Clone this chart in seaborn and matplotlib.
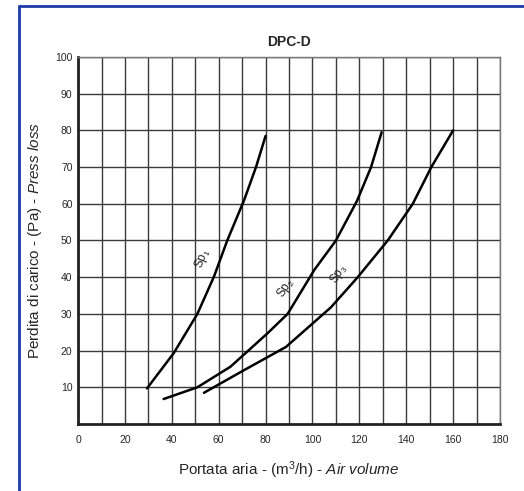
import pandas as pd
import numpy as np
import matplotlib.pyplot as plt
import seaborn as sns
from matplotlib.lines import Line2D

# curve points (portata m3/h, perdita Pa)
sp1_x = [29.4, 40.8, 50.9, 58.0, 63.7, 70.9, 75.9, 80.0]
sp1_y = [9.7, 19.3, 30.0, 40.2, 50.1, 61.1, 70.0, 78.5]

sp2_x = [36.5, 50.9, 65.0, 80.8, 89.4, 100.8, 110.0, 119.0, 125.0, 129.5]
sp2_y = [6.8, 10.0, 15.6, 24.7, 30.0, 42.0, 50.0, 60.8, 70.0, 79.5]

sp3_x = [53.7, 70.9, 88.7, 107.9, 119.3, 132.1, 142.8, 150.7, 160.0]
sp3_y = [8.5, 14.7, 21.0, 31.8, 40.0, 50.0, 60.0, 70.0, 80.0]

curve_names = ["Sp1", "Sp2", "Sp3"]
label_text = ["Sp$_1$", "Sp$_2$", "Sp$_3$"]
label_x = [53, 88.5, 111]
label_y = [45, 37, 41]
label_rot = [68, 58, 58]

x_ticks = list(range(0, 181, 20))
y_ticks = list(range(10, 101, 10))

df = pd.concat([
    pd.DataFrame({"portata": sp1_x, "perdita": sp1_y, "curva": "Sp1"}),
    pd.DataFrame({"portata": sp2_x, "perdita": sp2_y, "curva": "Sp2"}),
    pd.DataFrame({"portata": sp3_x, "perdita": sp3_y, "curva": "Sp3"}),
])

sns.set_theme(style="white")
plt.rcParams['font.family'] = ['Liberation Sans', 'DejaVu Sans']
plt.rcParams['mathtext.fontset'] = 'custom'
plt.rcParams['mathtext.rm'] = 'Liberation Sans'
plt.rcParams['mathtext.it'] = 'Liberation Sans:italic'

fig = plt.figure(figsize=(5.24, 4.91), dpi=100)
ax = fig.add_axes([0.149, 0.1365, 0.8052, 0.7474])

sns.lineplot(data=df, x="portata", y="perdita", hue="curva", units="curva",
             estimator=None, sort=False, palette=["black"] * 3,
             linewidth=1.8, legend=False, ax=ax)

for t, lx, ly, r in zip(label_text, label_x, label_y, label_rot):
    ax.text(lx, ly, t, rotation=r, fontsize=8.5, ha="center", va="center")

ax.set_xlim(0, 180)
ax.set_ylim(0, 100)
ax.set_xticks(x_ticks)
ax.set_xticks(np.arange(10, 180, 20), minor=True)
ax.set_yticks(y_ticks)
ax.grid(True, which="both", color="#3a3a3a", linewidth=1.0)
ax.tick_params(axis="x", which="both", length=0, labelsize=7.5, pad=8)
ax.tick_params(axis="y", length=3, width=0.8, color="#333333", labelsize=7.5, pad=1)

for s in ["left", "bottom"]:
    ax.spines[s].set_color("#222222")
    ax.spines[s].set_linewidth(2)
for s in ["top", "right"]:
    ax.spines[s].set_color("#777777")
    ax.spines[s].set_linewidth(1)
    ax.spines[s].set_visible(True)

ax.set_title("DPC-D", fontsize=10, fontweight="bold", pad=8)
ax.set_xlabel(r"Portata aria - (m$^3$/h) - $\mathit{Air\ volume}$", fontsize=11, labelpad=10)
ax.set_ylabel(r"Perdita di carico - (Pa) - $\mathit{Press\ loss}$", fontsize=11, labelpad=8)

# blue frame at left and top of the scan
fig.add_artist(Line2D([0.0372, 0.0372], [0.0, 0.988], transform=fig.transFigure,
                      color="#1f3aa8", linewidth=2))
fig.add_artist(Line2D([0.0372, 1.0], [0.988, 0.988], transform=fig.transFigure,
                      color="#1f3aa8", linewidth=2))

fig.savefig("out.png", dpi=100)
